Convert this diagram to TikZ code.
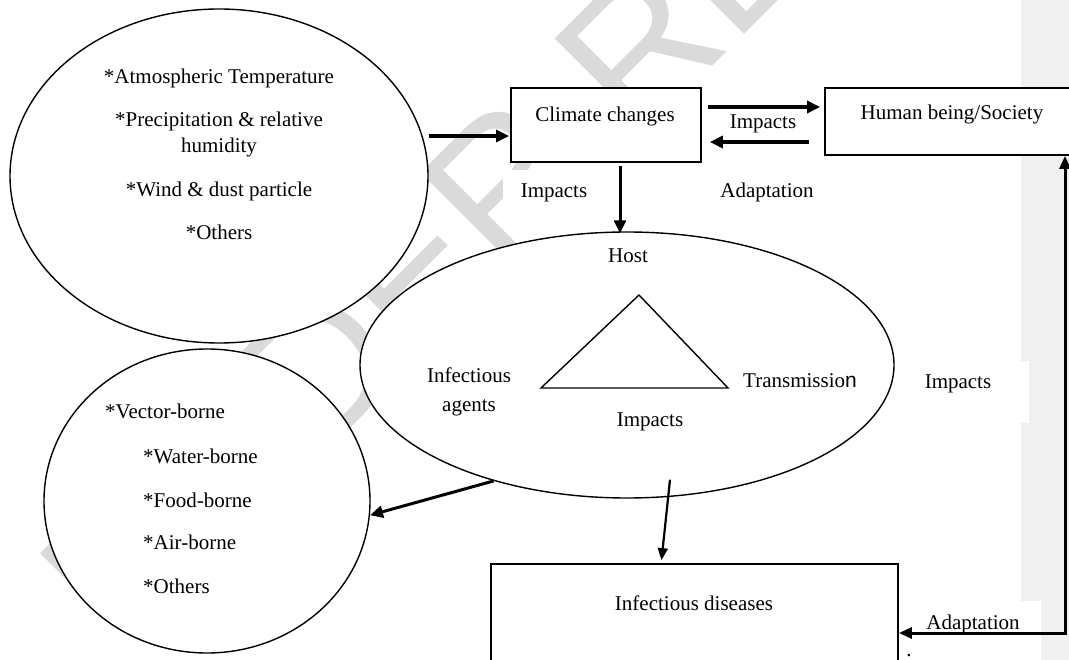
\documentclass[tikz,border=0pt]{standalone}
\usepackage{fontspec}
\setmainfont{Liberation Serif}
\newfontfamily\wmfont{Liberation Sans}
\usetikzlibrary{arrows.meta,shapes.geometric}
\definecolor{band}{RGB}{240,240,240}
\definecolor{wm}{RGB}{218,218,218}
\begin{document}
\begin{tikzpicture}[x=1pt,y=-1pt,
  lbl/.style={inner sep=0pt, font=\fontsize{21}{25}\selectfont, anchor=base},
  lbll/.style={lbl, anchor=base west},
  oval/.style={ellipse, draw, line width=1.4pt, fill=white, inner sep=0pt},
  boxnode/.style={rectangle, draw, line width=1.8pt, fill=white, inner sep=0pt},
  arr/.style={line width=3.4pt, -{Triangle[length=13pt,width=12pt]}},
  arrthin/.style={line width=2.2pt, -{Triangle[length=12pt,width=10pt]}},
  whitebg/.style={fill=white, draw=none}
]
\useasboundingbox (0,0) rectangle (1069,660);
\clip (0,0) rectangle (1069,660);
\fill[white] (0,0) rectangle (1069,660);
\fill[band] (1021,0) rectangle (1069,660);
% watermark
\node[rotate=45, anchor=base west, text=wm, inner sep=0pt,
      font=\wmfont\fontsize{190}{190}\selectfont] (wmk) at (122,657) {UNDER REVIEW};
% label backgrounds
\fill[whitebg] (912,361) rectangle (1029,423);
\fill[whitebg] (915,601) rectangle (1041,660);
\fill[whitebg] (503,170) rectangle (593,217);
\fill[whitebg] (712,170) rectangle (820,217);
% shapes
\node[oval, minimum width=418pt, minimum height=334pt] (env) at (219,176) {};
\node[oval, minimum width=326pt, minimum height=304pt] (dz) at (207,501) {};
\node[oval, minimum width=534pt, minimum height=266pt] (host) at (627,365) {};
\node[boxnode, minimum width=190pt, minimum height=74pt] (cb) at (606,125) {};
\node[boxnode, minimum width=255pt, minimum height=67pt] (hb) at (952.5,121.5) {};
\node[boxnode, minimum width=407pt, minimum height=100pt] (idb) at (694.5,614) {};
\draw[line width=1.4pt, line join=miter] (541,388) -- (639,295) -- (728,388) -- cycle;
% texts
\node[lbl] (t1) at (219,84) {*Atmospheric Temperature};
\node[lbl] (t2) at (219,127) {*Precipitation \& relative};
\node[lbl] (t3) at (219,153) {humidity};
\node[lbl] (t4) at (219,197) {*Wind \& dust particle};
\node[lbl] (t5) at (219,240) {*Others};
\node[lbl] (tcb) at (605,122) {Climate changes};
\node[lbl] (thb) at (952,120) {Human being/Society};
\node[lbl] (imp1) at (763,129) {Impacts};
\node[lbl] (imp2) at (554,198) {Impacts};
\node[lbl] (ada1) at (767,198) {Adaptation};
\node[lbl] (thost) at (628,263) {Host};
\node[lbl] (tia1) at (469,383) {Infectious};
\node[lbl] (tia2) at (469,411) {agents};
\node[lbll] (ttr) at (743,388) {Transmissio{\wmfont n}};
\node[lbl] (imp3) at (650,427) {Impacts};
\node[lbl] (imp4) at (958,389) {Impacts};
\node[lbll] (d1) at (105,419) {*Vector-borne};
\node[lbll] (d2) at (143,463) {*Water-borne};
\node[lbll] (d3) at (143,507) {*Food-borne};
\node[lbll] (d4) at (143,549) {*Air-borne};
\node[lbll] (d5) at (143,593) {*Others};
\node[lbl] (tidb) at (694,610) {Infectious diseases};
\node[lbl] (ada2) at (973,629) {Adaptation};
\node[lbl] (dot) at (909,656) {.};
% connectors
\coordinate (a1) at ([shift={(-1,11)}]cb.west);
\draw[arr] (env.east |- a1) -- (a1);
\draw[arr] ([shift={(6,-18)}]cb.east) -- ([shift={(-4,-14.5)}]hb.west);
\draw[arr] ([shift={(-15,20.5)}]hb.west) -- ([shift={(8,17)}]cb.east);
\draw[arr, line width=3pt] ([shift={(14,3)}]cb.south) -- ([shift={(-7,2)}]host.north);
\draw[arr, line width=3pt] (host.221.5) -- (dz.-5.6);
\draw[arrthin] ([shift={(43,-19)}]host.south) -- ([shift={(-33,-3)}]idb.north);
\coordinate (cr) at (1065,633);
\draw[line width=3pt, {Triangle[length=13pt,width=11pt]}-{Triangle[length=13pt,width=11pt]}]
  (idb.east |- cr) -- (cr) -- (hb.south -| cr);
\end{tikzpicture}
\end{document}
